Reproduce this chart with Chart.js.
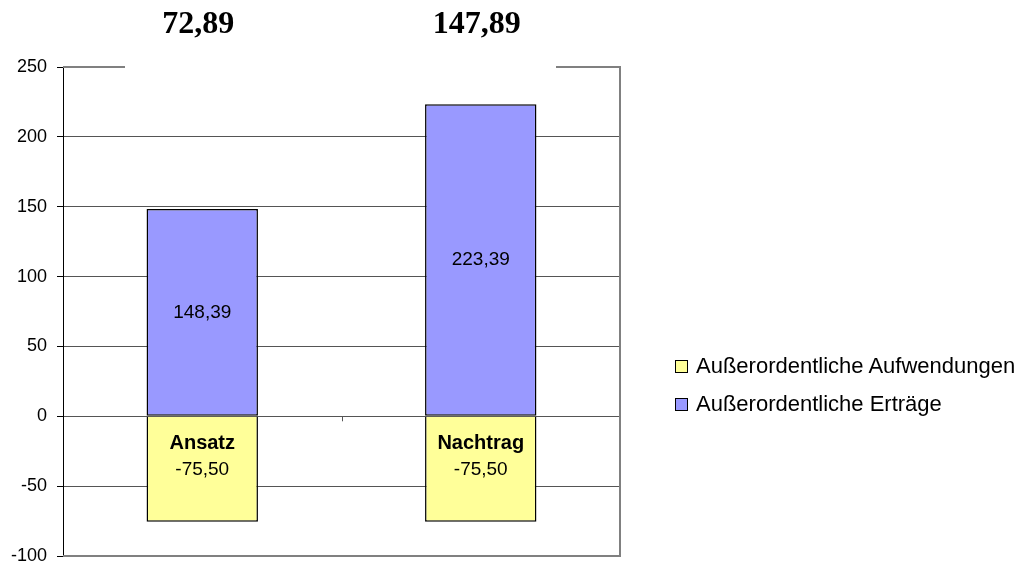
<!DOCTYPE html>
<html>
<head>
<meta charset="utf-8">
<script src="https://cdn.jsdelivr.net/npm/chart.js@4.4.1/dist/chart.umd.min.js"></script>
<style>
    html, body { margin: 0; padding: 0; background: #fff; }
    #wrap { position: relative; width: 1033px; height: 564px; }
    #legend {
        position: absolute;
        left: 675px;
        top: 347px;
        font: 22px "Liberation Sans", Arial, sans-serif;
        color: #000;
    }
    .item { display: flex; align-items: center; height: 38px; white-space: nowrap; }
    .swatch {
        box-sizing: border-box;
        width: 13px;
        height: 13px;
        border: 1.5px solid #000;
        margin-right: 8px;
    }
</style>
</head>
<body>
<div id="wrap">
    <canvas id="chart" width="1033" height="564"></canvas>
    <div id="legend"></div>
</div>
<script>
const categories = ["Ansatz", "Nachtrag"];
const aufwendungen = [-75.50, -75.50];
const ertraege = [148.39, 223.39];
const seriesNames = ["Außerordentliche Aufwendungen", "Außerordentliche Erträge"];
const seriesColors = ["#ffff99", "#9999ff"];
const yMin = -100;
const yMax = 250;
const yStep = 50;

const sans = "'Liberation Sans', Arial, sans-serif";

function fmt(v) {
    return v.toFixed(2).replace(".", ",");
}

const barLabels = {
    id: "barLabels",
    beforeDatasetsDraw(chart) {
        const { ctx, chartArea: a } = chart;
        ctx.save();
        ctx.strokeStyle = "#808080";
        ctx.lineWidth = 2;
        ctx.beginPath();
        ctx.moveTo(a.left, a.top);
        ctx.lineTo(a.right, a.top);
        ctx.lineTo(a.right, a.bottom);
        ctx.lineTo(a.left, a.bottom);
        ctx.stroke();
        ctx.restore();
    },
    afterDatasetsDraw(chart) {
        const ctx = chart.ctx;
        const xs = chart.scales.x;
        const zero = chart.scales.y.getPixelForValue(0);
        ctx.save();
        // small category tick between the bars on the zero line
        const mid = (xs.getPixelForValue(0) + xs.getPixelForValue(1)) / 2;
        ctx.strokeStyle = "#555";
        ctx.lineWidth = 1;
        ctx.beginPath();
        ctx.moveTo(Math.round(mid) + 0.5, zero);
        ctx.lineTo(Math.round(mid) + 0.5, zero + 5);
        ctx.stroke();

        ctx.fillStyle = "#000";
        ctx.textAlign = "center";
        ctx.textBaseline = "middle";
        ctx.font = "19px " + sans;
        chart.data.datasets.forEach((ds, i) => {
            chart.getDatasetMeta(i).data.forEach((bar, j) => {
                ctx.fillText(fmt(ds.data[j]), bar.x, (bar.y + bar.base) / 2);
            });
        });
        // category names just under the zero line
        ctx.font = "bold 20px " + sans;
        categories.forEach((c, j) => {
            ctx.fillText(c, xs.getPixelForValue(j), zero + 27);
        });
        ctx.restore();
    },
    afterDraw(chart) {
        const { ctx, chartArea: a } = chart;
        ctx.save();
        // white title box over the top border
        ctx.fillStyle = "#fff";
        ctx.fillRect(a.left + 62, a.top - 60, a.width - 126, 62);
        ctx.font = "bold 32px 'Liberation Serif', 'Times New Roman', serif";
        ctx.fillStyle = "#000";
        ctx.textAlign = "center";
        ctx.textBaseline = "middle";
        const xs = chart.scales.x;
        categories.forEach((c, j) => {
            const total = aufwendungen[j] + ertraege[j];
            ctx.fillText(fmt(total), xs.getPixelForValue(j) - 4, a.top - 42);
        });
        ctx.restore();
    }
};

new Chart(document.getElementById("chart"), {
    type: "bar",
    data: {
        labels: categories,
        datasets: [{
            label: seriesNames[0],
            data: aufwendungen,
            backgroundColor: seriesColors[0],
            borderColor: "#000",
            borderWidth: 1.5,
            borderSkipped: "start",
            barPercentage: 0.8,
            categoryPercentage: 0.5
        }, {
            label: seriesNames[1],
            data: ertraege,
            backgroundColor: seriesColors[1],
            borderColor: "#000",
            borderWidth: 1.5,
            borderSkipped: false,
            barPercentage: 0.8,
            categoryPercentage: 0.5
        }]
    },
    options: {
        responsive: false,
        devicePixelRatio: 1,
        animation: false,
        layout: {
            padding: { top: 67, right: 413, bottom: 8, left: 0 }
        },
        plugins: {
            legend: { display: false },
            tooltip: { enabled: false }
        },
        scales: {
            x: {
                stacked: true,
                display: false
            },
            y: {
                stacked: true,
                min: yMin,
                max: yMax,
                afterFit(scale) {
                    scale.width = 63;
                    scale.paddingTop = 0;
                    scale.paddingBottom = 8;
                },
                border: { color: "#000", width: 1 },
                grid: {
                    color: "#555",
                    tickColor: "#000",
                    tickLength: 6
                },
                ticks: {
                    stepSize: yStep,
                    color: "#000",
                    padding: 10,
                    font: { family: sans, size: 18 }
                }
            }
        }
    },
    plugins: [barLabels]
});

const legend = document.getElementById("legend");
seriesNames.forEach((name, i) => {
    const row = document.createElement("div");
    row.className = "item";
    const sw = document.createElement("span");
    sw.className = "swatch";
    sw.style.background = seriesColors[i];
    const txt = document.createElement("span");
    txt.textContent = name;
    row.appendChild(sw);
    row.appendChild(txt);
    legend.appendChild(row);
});
</script>
</body>
</html>
